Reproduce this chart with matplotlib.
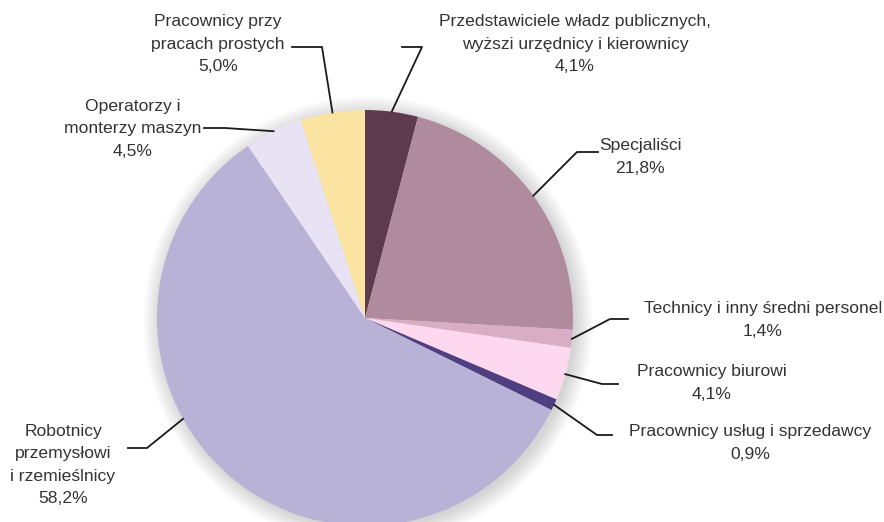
import numpy as np
import matplotlib.pyplot as plt
from matplotlib.patches import Circle

plt.rcParams['font.family'] = ['Liberation Sans', 'DejaVu Sans']

# dane
grupy = ["Przedstawiciele władz publicznych,\nwyższi urzędnicy i kierownicy",
         "Specjaliści",
         "Technicy i inny średni personel",
         "Pracownicy biurowi",
         "Pracownicy usług i sprzedawcy",
         "Robotnicy\nprzemysłowi\ni rzemieślnicy",
         "Operatorzy i\nmonterzy maszyn",
         "Pracownicy przy\npracach prostych"]
udzial = [4.1, 21.8, 1.4, 4.1, 0.9, 58.2, 4.5, 5.0]
kolory = ["#5e3a4f", "#b08a9d", "#d9adc3", "#fdd8ee", "#4f3f80",
          "#b9b2d7", "#e9e2f4", "#fbe3a1"]

W, H = 884, 522
cx, cy, R = 365, 318, 208

def py(y):
    return H - y

# pozycje etykiet (tekst x, y, kolano x, y, koniec x)
tekst_xy = [(575, 44), (640, 157), (763, 320), (712, 383), (750, 443),
            (63, 465), (133, 129), (218, 44)]
kolano = [(422, 47), (577, 152), (610, 319), (602, 384), (597, 435),
          (147, 448), (225, 128), (322, 47)]
koniec_x = [402, 598, 628, 618, 612, 128, 204, 292]
kat_kotwicy = {5: -151.0}

fig = plt.figure(figsize=(W / 100, H / 100), dpi=100)
ax = fig.add_axes([0, 0, 1, 1])

# cień
for i in range(14):
    ax.add_patch(Circle((cx + 3, py(cy) - 3), R + i * 1.3, color='black',
                        alpha=0.012, lw=0, zorder=0))

wedges, _ = ax.pie(udzial, colors=kolory, startangle=90, counterclock=False,
                   radius=R, center=(cx, py(cy)),
                   wedgeprops=dict(linewidth=0), frame=True)
ax.set_xlim(0, W)
ax.set_ylim(0, H)
ax.set_aspect('equal')
ax.axis('off')

for i, w in enumerate(wedges):
    kat = kat_kotwicy.get(i, (w.theta1 + w.theta2) / 2)
    ax0 = cx + R * np.cos(np.radians(kat))
    ay0 = py(cy) + R * np.sin(np.radians(kat))
    kx, ky = kolano[i]
    ax.plot([ax0, kx, koniec_x[i]], [ay0, py(ky), py(ky)], color='#1a1a1a',
            lw=1.3, zorder=3)
    tx, ty = tekst_xy[i]
    etykieta = grupy[i] + "\n" + f"{udzial[i]:.1f}%".replace('.', ',')
    ax.text(tx, py(ty), etykieta, ha='center', va='center', fontsize=12.6,
            color='#333333', linespacing=1.6)

plt.savefig('out.png', dpi=100)
